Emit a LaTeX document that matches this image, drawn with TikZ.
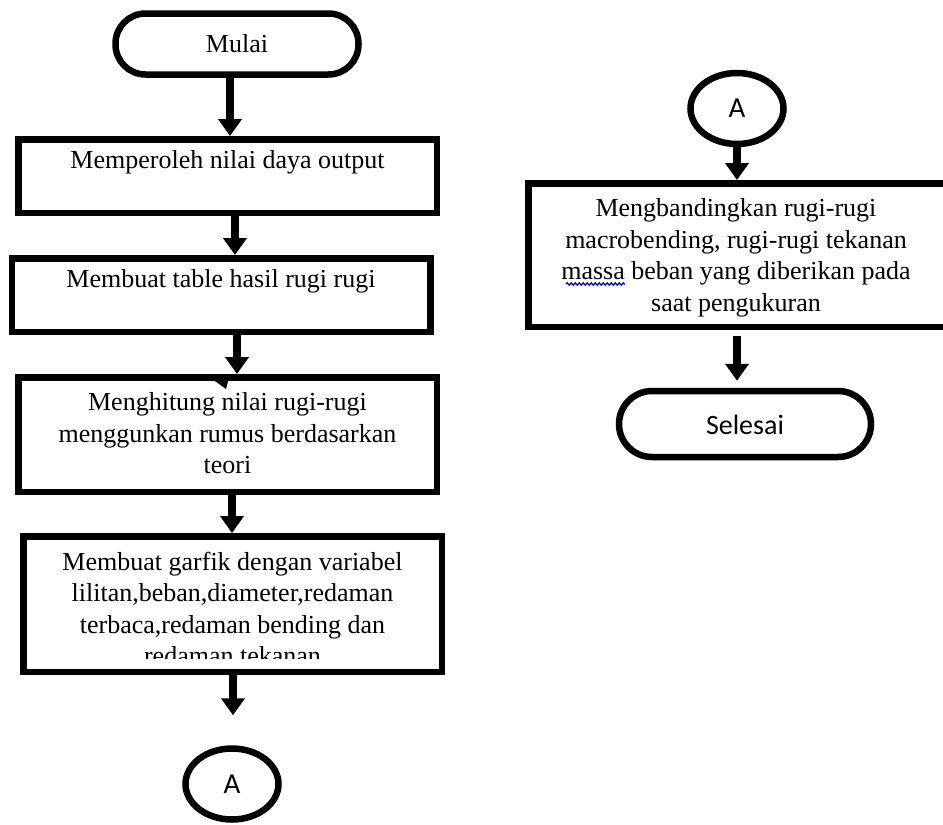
\documentclass[tikz,border=0pt]{standalone}
\usepackage{fontspec}
\setmainfont{Liberation Serif}
\newfontfamily\sansA{Carlito}
\usetikzlibrary{arrows.meta,decorations.pathmorphing,shapes.geometric}
\tikzset{
  term/.style={draw, line width=6.5pt, rounded corners=30pt, minimum width=243pt, minimum height=61pt, inner sep=0pt},
  proc/.style={draw, line width=6.5pt, minimum width=418.5pt, inner sep=0pt},
  conn/.style={draw, ellipse, line width=6.5pt, minimum width=93pt, minimum height=71pt, inner sep=0pt, font=\sansA\fontsize{29pt}{30pt}\selectfont},
  txt/.style={align=center, inner sep=0pt, font=\fontsize{26pt}{31.5pt}\selectfont},
  arr/.style={line width=8pt, -{Triangle[length=17pt, width=23pt]}},
}
\begin{document}
\begin{tikzpicture}[x=1pt,y=-1pt]
\useasboundingbox (0,0) rectangle (943,825);
\clip (0,0) rectangle (943,825);
% left column
\node[term] (start) at (237,44) {};
\node[txt] at (start.center) {Mulai};
\node[proc, minimum height=73.5pt] (b1) at (227.5,176) {};
\node[txt] at (227.5,162) {Memperoleh nilai daya output};
\node[proc, minimum height=73.5pt] (b2) at (221,295) {};
\node[txt] at (221,281) {Membuat table hasil rugi rugi};
\node[proc, minimum height=114.5pt] (b3) at (227.5,434.5) {};
\node[txt] at (227.5,433.5) {Menghitung nilai rugi-rugi\\menggunkan rumus berdasarkan\\teori};
\node[proc, minimum height=135.5pt] (b4) at (232.5,604) {};
\begin{scope}
  \clip (25,538) rectangle (440,658);
  \node[txt] at (232.5,608.5) {Membuat garfik dengan variabel\\lilitan,beban,diameter,redaman\\terbaca,redaman bending dan\\redaman tekanan};
\end{scope}
\node[conn] (a1) at (232,784) {A};
% right column
\node[conn] (a2) at (737,108.5) {A};
\node[proc, minimum height=143.5pt] (b5) at (737.5,255) {};
\node[txt] at (736,258) {Mengbandingkan rugi-rugi\\macrobending, rugi-rugi tekanan\\massa beban yang diberikan pada\\saat pengukuran};
\draw[blue!80!black, line width=1.2pt, decorate, decoration={snake, amplitude=1.2pt, segment length=4pt}] (566,284) -- (625,284);
\node[term, minimum width=252pt, minimum height=66pt, rounded corners=33pt] (end) at (745,424) {};
\node[txt, font=\sansA\fontsize{28pt}{30pt}\selectfont] at (745,425) {Selesai};
% connectors
\draw[arr] (start.south -| 230,0) -- (b1.north -| 230,0);
\draw[arr] (b1.south -| 235,0) -- (b2.north -| 235,0);
\draw[arr] (b2.south -| 237,0) -- (b3.north -| 237,0);
\draw[arr] (b3.south -| 232,0) -- (b4.north -| 232,0);
\draw[arr, shorten >=30pt] (b4.south -| 233,0) -- (a1.north -| 233,0);
\draw[arr] (a2.south -| 737,0) -- (b5.north -| 737,0);
\draw[arr, shorten <=6pt, shorten >=7pt] (b5.south -| 737,0) -- (end.north -| 737,0);
% stray arrowhead artifact
\fill (208,376) -- (229,378) -- (226,389) -- cycle;
\end{tikzpicture}
\end{document}
